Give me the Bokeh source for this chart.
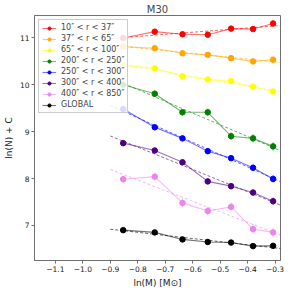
import numpy as np
from bokeh.plotting import figure
from bokeh.models import Range1d, FixedTicker, Legend, LegendItem
from bokeh.embed import file_html
from bokeh.resources import INLINE

# ---- data ----
ln_mass = [-0.853, -0.738, -0.637, -0.545, -0.460, -0.380, -0.307]
fit_x = [-0.9, -0.28]

labels = ['10″ < r < 37″', '37″ < r < 65″', '65″ < r < 100″', '200″ < r < 250″',
          '250″ < r < 300″', '300″ < r < 400″', '400″ < r < 850″', 'GLOBAL']
colors = ['#ff0000', '#ffa500', '#ffff00', '#008000', '#0000ff', '#4b0082', '#ee82ee', '#000000']

red = [11.00, 11.135, 11.08, 11.07, 11.20, 11.19, 11.31]
orange = [10.816, 10.78, 10.673, 10.64, 10.57, 10.50, 10.537]
yellow = [10.42, 10.353, 10.184, 10.114, 10.08, 9.96, 9.857]
green = [10.00, 9.81, 9.414, 9.414, 8.904, 8.857, 8.686]
blue = [9.482, 9.094, 8.857, 8.584, 8.435, 8.23, 7.992]
purple = [8.755, 8.598, 8.347, 7.939, 7.837, 7.70, 7.516]
pink = [7.986, 8.04, 7.48, 7.306, 7.394, 6.92, 6.85]
glob = [6.898, 6.85, 6.70, 6.645, 6.633, 6.557, 6.563]

red_err = [0.03, 0.03, 0.03, 0.03, 0.03, 0.03, 0.03]
orange_err = [0.03, 0.03, 0.03, 0.03, 0.03, 0.03, 0.03]
yellow_err = [0.03, 0.03, 0.03, 0.03, 0.03, 0.03, 0.03]
green_err = [0.06, 0.07, 0.07, 0.08, 0.08, 0.09, 0.09]
blue_err = [0.05, 0.05, 0.05, 0.06, 0.06, 0.07, 0.08]
purple_err = [0.05, 0.05, 0.06, 0.06, 0.07, 0.07, 0.08]
pink_err = [0.07, 0.08, 0.09, 0.09, 0.10, 0.10, 0.10]
glob_err = [0.02, 0.02, 0.02, 0.02, 0.02, 0.02, 0.02]

series = [red, orange, yellow, green, blue, purple, pink, glob]
errors = [red_err, orange_err, yellow_err, green_err, blue_err, purple_err, pink_err, glob_err]

x_ticks = [-1.1, -1.0, -0.9, -0.8, -0.7, -0.6, -0.5, -0.4, -0.3]
y_ticks = [7, 8, 9, 10, 11]

FONT = "DejaVu Sans"
AX = "#707070"

p = figure(width=290, height=290, output_backend="svg", toolbar_location=None,
           x_range=Range1d(-1.176, -0.28), y_range=Range1d(6.25, 11.48),
           min_border_left=33, min_border_right=10, min_border_bottom=27, min_border_top=5,
           title="M30")
p.title.align = "center"
p.title.text_font = FONT
p.title.text_font_size = "10px"
p.title.text_font_style = "normal"
p.title.standoff = 2
p.grid.visible = False
p.outline_line_color = AX
p.background_fill_color = "white"

p.xaxis.ticker = FixedTicker(ticks=x_ticks)
p.xaxis.major_label_overrides = {t: ("%.1f" % t).replace("-", "−") for t in x_ticks}
p.yaxis.ticker = FixedTicker(ticks=y_ticks)
p.xaxis.axis_label = "ln(M) [M⊙]"
p.yaxis.axis_label = "ln(N) + C"
for ax in (p.xaxis, p.yaxis):
    ax.axis_line_color = AX
    ax.major_tick_line_color = AX
    ax.minor_tick_line_color = None
    ax.major_tick_out = 3
    ax.major_tick_in = 0
    ax.major_label_text_font = FONT
    ax.major_label_text_font_size = "7.5px"
    ax.major_label_text_color = "#222222"
    ax.axis_label_text_font = FONT
    ax.axis_label_text_font_size = "9px"
    ax.axis_label_text_font_style = "normal"
    ax.axis_label_text_color = "#222222"
    ax.major_label_standoff = 2
    ax.axis_label_standoff = 3

items = []
for lab, col, ys, es in zip(labels, colors, series, errors):
    slope, icpt = np.polyfit(ln_mass, ys, 1)
    fy = [icpt + slope * fx for fx in fit_x]
    p.line(fit_x, fy, line_color=col, line_width=1, line_dash="3 2", line_alpha=0.6)
    lo = [y - e for y, e in zip(ys, es)]
    hi = [y + e for y, e in zip(ys, es)]
    p.segment(x0=ln_mass, x1=ln_mass, y0=lo, y1=hi, line_color=col, line_alpha=0.5, line_width=1)
    lr = p.line(ln_mass, ys, line_color=col, line_width=1.1, line_alpha=0.55)
    sr = p.scatter(ln_mass, ys, size=5.5, fill_color=col, line_color=col)
    items.append(LegendItem(label=lab, renderers=[lr, sr]))

legend = Legend(items=items, location="top_left")
legend.label_text_font = FONT
legend.label_text_font_size = "8px"
legend.label_height = 8
legend.glyph_height = 8
legend.glyph_width = 14
legend.spacing = 2
legend.padding = 3
legend.margin = 4
legend.label_standoff = 5
legend.border_line_color = "#cccccc"
legend.border_line_alpha = 1
legend.background_fill_alpha = 0.85
p.add_layout(legend)

open("out.html", "w").write(file_html(p, INLINE))
